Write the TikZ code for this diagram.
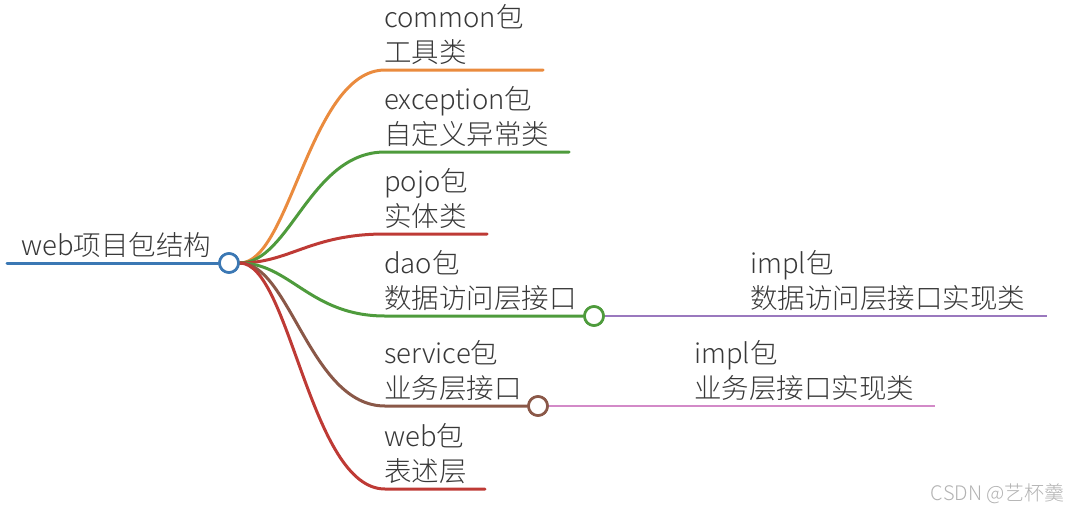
\documentclass[tikz,border=0pt]{standalone}
\usepackage{fontspec}
\setmainfont{Noto Sans CJK SC Light}
\begin{document}
\begin{tikzpicture}[x=1pt,y=-1pt,
  txt/.style={anchor=south west,inner sep=0pt,align=left,text=black!78,font=\fontsize{27.5}{35}\selectfont},
  br/.style={line width=3pt,line cap=round},
  knob/.style={circle,draw,line width=2.6pt,fill=white,minimum size=19pt,inner sep=0pt}]
\definecolor{cblue}{HTML}{3B78B4}
\definecolor{corange}{HTML}{EA8B3E}
\definecolor{cgreen}{HTML}{4E9B3C}
\definecolor{cred}{HTML}{BE3A35}
\definecolor{cbrown}{HTML}{8A5848}
\definecolor{cpurple}{HTML}{9A78BE}
\definecolor{cpink}{HTML}{D38AC8}
\useasboundingbox (0,0) rectangle (1070,509);
% root
\coordinate (r0) at (7,263);
\node[knob,draw=cblue] (root) at (229,263) {};
\node[txt] (roottxt) at (21,258) {web项目包结构};
% branch end points
\coordinate (c1) at (385,70);  \coordinate (c1e) at (543,70);
\coordinate (e1) at (385,152); \coordinate (e1e) at (569,152);
\coordinate (p1) at (385,234); \coordinate (p1e) at (487,234);
\coordinate (d1) at (385,316);
\coordinate (s1) at (385,406);
\coordinate (w1) at (385,489); \coordinate (w1e) at (485,489);
\node[knob,draw=cgreen] (dao) at (594,316) {};
\node[knob,draw=cbrown] (svc) at (538,406) {};
\coordinate (di) at (1047,316);
\coordinate (si) at (935,406);
% links
\draw[br,cblue] (r0) -- (root.west);
\draw[br,corange] (root.east) .. controls (290,263) and (310,70) .. (c1) -- (c1e);
\draw[br,cgreen] (root.east) .. controls (290,263) and (310,152) .. (e1) -- (e1e);
\draw[br,cred] (root.east) .. controls (290,263) and (310,234) .. (p1) -- (p1e);
\draw[br,cgreen] (root.east) .. controls (290,263) and (310,316) .. (d1) -- (dao.west);
\draw[br,cbrown] (root.east) .. controls (290,263) and (310,406) .. (s1) -- (svc.west);
\draw[br,cred] (root.east) .. controls (290,263) and (310,489) .. (w1) -- (w1e);
\draw[line width=2.4pt,cpurple] (dao.east) -- (di);
\draw[line width=2.4pt,cpink] (svc.east) -- (si);
\node[knob,draw=cblue] at (root) {};
\node[knob,draw=cgreen] at (dao) {};
\node[knob,draw=cbrown] at (svc) {};
% labels
\node[txt] (t1) at (384,65) {common包\\工具类};
\node[txt] (t2) at (384,147) {exception包\\自定义异常类};
\node[txt] (t3) at (384,229) {pojo包\\实体类};
\node[txt] (t4) at (384,311) {dao包\\数据访问层接口};
\node[txt] (t5) at (384,401) {service包\\业务层接口};
\node[txt] (t6) at (384,484) {web包\\表述层};
\node[txt] (t7) at (750,311) {impl包\\数据访问层接口实现类};
\node[txt] (t8) at (694,401) {impl包\\业务层接口实现类};
\node[anchor=south east,inner sep=0pt,text=black!30,font=\fontsize{20}{24}\selectfont] (wm) at (1065,504) {CSDN @艺杯羹};
\end{tikzpicture}
\end{document}
